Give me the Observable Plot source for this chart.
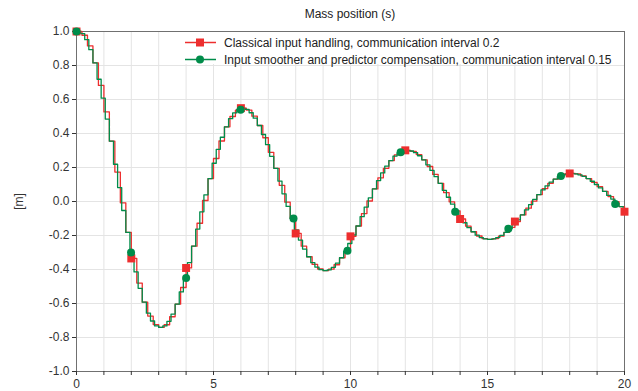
<!DOCTYPE html>
<html><head><meta charset="utf-8">
<script src="https://cdn.jsdelivr.net/npm/d3@7"></script>
<script src="https://cdn.jsdelivr.net/npm/@observablehq/plot@0.6"></script>
<style>
body{margin:0;background:#fff;font-family:"Liberation Sans",Arial,sans-serif;}
#wrap{position:relative;width:638px;height:391px;}
#title{position:absolute;top:7px;left:350px;transform:translateX(-50%);font-size:12px;line-height:14px;color:#222;white-space:nowrap;}
#legend{position:absolute;left:183px;top:32px;width:439px;height:32px;background:#fff;padding-top:2px;box-sizing:border-box;}
.row{display:flex;align-items:center;height:17px;font-size:12px;color:#222;white-space:nowrap;}
.row svg{margin-left:1px;margin-right:8px;flex:none;}
</style></head><body>
<div id="wrap"><div id="title"></div><div id="legend"></div></div>
<script>
const title = "Mass position (s)";
const yLabel = "[m]";
const seriesNames = [
  "Classical input handling, communication interval 0.2",
  "Input smoother and predictor compensation, communication interval 0.15"
];
const colors = ["#ed2e2e", "#008c4a"];

// Classical handling: sample every 0.2 s (held values)
const redInterval = 0.2;
const redValues = [
  1.000,0.978,0.915,0.815,0.683,0.527,0.355,0.173,-0.008,-0.182,
  -0.335,-0.480,-0.592,-0.674,-0.724,-0.741,-0.725,-0.678,-0.604,-0.506,
  -0.391,-0.263,-0.128,0.006,0.135,0.253,0.356,0.439,0.500,0.537,
  0.549,0.537,0.502,0.447,0.375,0.289,0.195,0.095,-0.004,-0.100,
  -0.188,-0.263,-0.325,-0.370,-0.397,-0.407,-0.398,-0.372,-0.331,-0.278,
  -0.205,-0.144,-0.071,0.003,0.074,0.139,0.195,0.241,0.274,0.294,
  0.301,0.295,0.276,0.245,0.206,0.159,0.107,0.052,-0.002,-0.055,
  -0.103,-0.145,-0.178,-0.203,-0.218,-0.223,-0.218,-0.204,-0.182,-0.152,
  -0.118,-0.079,-0.039,0.002,0.041,0.076,0.107,0.132,0.150,0.162,
  0.165,0.162,0.151,0.135,0.113,0.087,0.059,0.029,-0.001,-0.030,
  -0.060
];

// Input smoother + predictor: sample every 0.15 s (held values)
const greenInterval = 0.15;
const greenValues = [
  1.000,0.988,0.952,0.893,0.815,0.719,0.608,0.485,0.355,0.219,
  0.082,-0.053,-0.182,-0.304,-0.414,-0.511,-0.592,-0.657,-0.703,-0.732,
  -0.741,-0.732,-0.705,-0.662,-0.604,-0.532,-0.450,-0.360,-0.263,-0.162,
  -0.061,0.039,0.135,0.225,0.307,0.378,0.439,0.487,0.521,0.542,
  0.549,0.542,0.522,0.490,0.447,0.394,0.334,0.266,0.195,0.120,
  0.045,-0.029,-0.100,-0.167,-0.227,-0.280,-0.325,-0.360,-0.386,-0.401,
  -0.407,-0.402,-0.387,-0.363,-0.331,-0.292,-0.247,-0.197,-0.144,-0.089,
  -0.033,0.021,0.074,0.123,0.168,0.208,0.241,0.267,0.286,0.297,
  0.301,0.297,0.287,0.269,0.245,0.216,0.183,0.146,0.107,0.066,
  0.025,-0.016,-0.055,-0.091,-0.125,-0.154,-0.178,-0.198,-0.212,-0.220,
  -0.223,-0.220,-0.212,-0.199,-0.182,-0.160,-0.136,-0.108,-0.079,-0.049,
  -0.018,0.012,0.041,0.068,0.092,0.114,0.132,0.147,0.157,0.163,
  0.165,0.163,0.157,0.148,0.135,0.119,0.100,0.080,0.059,0.036,
  0.014,-0.009,-0.030,-0.050
];

// Marker positions
const redMarkEvery = 10;
const greenMarkT = [0, 1.99, 4.0, 5.99, 7.92, 9.89, 11.83, 13.82, 15.76, 17.68, 19.66];
const greenMarkV = [1.0, -0.30, -0.45, 0.54, -0.10, -0.29, 0.29, -0.06, -0.16, 0.15, -0.015];

const xTicks = [0,1,2,3,4,5,6,7,8,9,10,11,12,13,14,15,16,17,18,19,20];
const xLabelTicks = [0,5,10,15,20];
const yTicks = [-1.0,-0.8,-0.6,-0.4,-0.2,0.0,0.2,0.4,0.6,0.8,1.0];

const xEnd = xTicks[xTicks.length - 1];
const red = redValues.map((v, i) => ({t: +(i * redInterval).toFixed(3), v}));
const green = greenValues.map((v, i) => ({t: +(i * greenInterval).toFixed(3), v}));
green.push({t: xEnd, v: greenValues[greenValues.length - 1]});
const redMarks = red.filter((d, i) => i % redMarkEvery === 0);
const greenMarks = greenMarkT.map((t, i) => ({t, v: greenMarkV[i]}));

const chart = Plot.plot({
  width: 638, height: 391,
  marginLeft: 76, marginRight: 14, marginTop: 31, marginBottom: 20,
  style: {fontFamily: '"Liberation Sans", Arial, sans-serif', fontSize: "12px", color: "#333", background: "#fff"},
  x: {domain: [xTicks[0], xEnd]},
  y: {domain: [yTicks[0], yTicks[yTicks.length - 1]]},
  marks: [
    Plot.gridX(xTicks, {stroke: "#e4e4e4", strokeOpacity: 1}),
    Plot.gridY(yTicks, {stroke: "#e4e4e4", strokeOpacity: 1}),
    Plot.frame({stroke: "#707070"}),
    Plot.axisX(xTicks, {tickSize: 4, tickPadding: 4, tickFormat: d => xLabelTicks.includes(d) ? String(d) : "", label: null}),
    Plot.axisY(yTicks, {tickSize: 4, tickPadding: 3, tickFormat: d => d.toFixed(1), label: yLabel, labelAnchor: "center", labelArrow: "none", labelOffset: 62}),
    Plot.line(red, {x: "t", y: "v", curve: "step-after", stroke: colors[0], strokeWidth: 1.3}),
    Plot.line(green, {x: "t", y: "v", curve: "step-after", stroke: colors[1], strokeWidth: 1.3}),
    Plot.dot(redMarks, {x: "t", y: "v", symbol: "square", r: 4.5, fill: colors[0], stroke: "none"}),
    Plot.dot(greenMarks, {x: "t", y: "v", symbol: "circle", r: 4, fill: colors[1], stroke: "none"})
  ]
});
document.getElementById("wrap").prepend(chart);
document.getElementById("title").textContent = title;

const legend = document.getElementById("legend");
seriesNames.forEach((name, i) => {
  const row = document.createElement("div");
  row.className = "row";
  const marker = i === 0
    ? `<rect x="12" y="4.5" width="8" height="8" fill="${colors[i]}"/>`
    : `<circle cx="16" cy="8.5" r="4" fill="${colors[i]}"/>`;
  row.innerHTML = `<svg width="32" height="17"><line x1="1" x2="32" y1="8.5" y2="8.5" stroke="${colors[i]}" stroke-width="1.5"/>${marker}</svg><span></span>`;
  row.querySelector("span").textContent = name;
  legend.appendChild(row);
});
</script>
</body></html>
